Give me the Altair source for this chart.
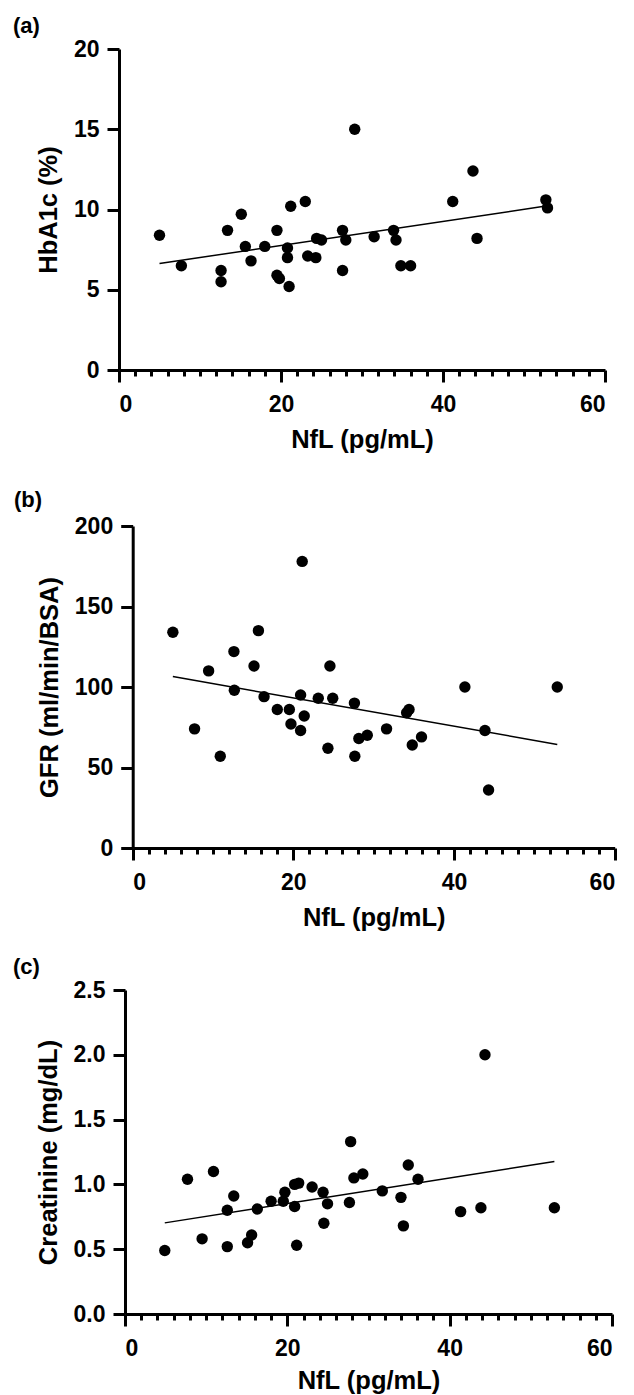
import altair as alt
import pandas as pd

# Panel (a): NfL vs HbA1c
nfl_a = [5.0, 7.7, 12.6, 12.6, 13.4, 15.1, 15.6, 16.3, 18.0, 19.5, 19.5, 19.8,
         20.8, 20.8, 21.0, 21.2, 23.0, 23.3, 24.3, 24.4, 25.0, 27.6, 27.6, 28.0,
         29.1, 31.5, 33.9, 34.2, 34.8, 36.0, 41.2, 43.7, 44.2, 52.7, 52.9]
hba1c = [8.4, 6.5, 6.2, 5.5, 8.7, 9.7, 7.7, 6.8, 7.7, 8.7, 5.9, 5.7,
         7.6, 7.0, 5.2, 10.2, 10.5, 7.1, 7.0, 8.2, 8.1, 8.7, 6.2, 8.1,
         15.0, 8.3, 8.7, 8.1, 6.5, 6.5, 10.5, 12.4, 8.2, 10.6, 10.1]

# Panel (b): NfL vs GFR
nfl_b = [5.0, 7.7, 9.45, 10.9, 12.6, 12.65, 15.1, 15.65, 16.35, 18.0, 19.5, 19.7,
         20.9, 20.9, 21.1, 21.35, 23.1, 24.3, 24.55, 24.9, 27.6, 27.65, 28.15,
         29.2, 31.6, 34.1, 34.4, 34.8, 35.95, 41.35, 43.85, 44.3, 52.85]
gfr = [134, 74, 110, 57, 122, 98, 113, 135, 94, 86, 86, 77,
       95, 73, 178, 82, 93, 62, 113, 93, 90, 57, 68,
       70, 74, 84, 86, 64, 69, 100, 73, 36, 100]

# Panel (c): NfL vs Creatinine
nfl_c = [4.9, 7.7, 9.5, 10.9, 12.6, 12.6, 13.4, 15.1, 15.6, 16.3, 18.0, 19.5,
         19.7, 20.9, 20.9, 21.4, 21.15, 23.05, 24.4, 24.5, 24.95, 27.65, 27.8,
         28.2, 29.3, 31.7, 34.0, 34.3, 34.9, 36.1, 41.35, 43.85, 44.35, 52.9]
creat = [0.49, 1.04, 0.58, 1.10, 0.80, 0.52, 0.91, 0.55, 0.61, 0.81, 0.87, 0.87,
         0.94, 0.83, 1.00, 1.01, 0.53, 0.98, 0.94, 0.70, 0.85, 0.86, 1.33,
         1.05, 1.08, 0.95, 0.90, 0.68, 1.15, 1.04, 0.79, 0.82, 2.00, 0.82]

x_ticks = list(range(0, 61, 2))
x_title = "NfL (pg/mL)"

FONT = "Liberation Sans, Arial, Helvetica, sans-serif"


def panel(xs, ys, ytitle, ymax, yticks, yfmt, label, shift, plotw, height,
          dx, toff, xtpad):
    df = pd.DataFrame({"x": xs, "y": ys})
    base = alt.Chart(df)
    xenc = alt.X(
        "x:Q",
        scale=alt.Scale(domain=[0, 60], range=[shift, shift + plotw], nice=False, zero=True),
        axis=alt.Axis(
            values=x_ticks,
            title=x_title,
            tickSize={"condition": {"test": "datum.value % 20 === 0", "value": 12}, "value": 6},
            labelExpr="datum.value % 20 === 0 ? datum.label : ''",
            labelOverlap=False,
            labelPadding=11,
            titlePadding=xtpad,
        ),
    )
    yaxis_kw = dict(
        values=yticks,
        format=yfmt,
        title=ytitle,
        tickSize=12,
        labelPadding=8,
        titlePadding=12,
    )
    if shift:
        yaxis_kw["offset"] = -shift
    yenc = alt.Y(
        "y:Q",
        scale=alt.Scale(domain=[0, ymax], nice=False, zero=True),
        axis=alt.Axis(**yaxis_kw),
    )
    pts = base.mark_circle(size=130, color="black", opacity=1).encode(x=xenc, y=yenc)
    line = base.transform_regression("x", "y").mark_line(
        color="black", strokeWidth=1.5
    ).encode(x=xenc, y=yenc)
    return alt.layer(pts, line).properties(
        width=shift + plotw,
        height=height,
        title=alt.TitleParams(
            text=label, anchor="start", frame="group", dx=dx, offset=toff,
            fontSize=22, font=FONT, fontWeight="bold", color="black",
        ),
    )


pa = panel(nfl_a, hba1c, "HbA1c (%)", 20, [0, 5, 10, 15, 20], "d", "(a)",
           0, 486, 321, -106, 0, 11)
pb = panel(nfl_b, gfr, "GFR (ml/min/BSA)", 200, [0, 50, 100, 150, 200], "d", "(b)",
           13.7, 482, 322, -105, 3, 11)
pc = panel(nfl_c, creat, "Creatinine (mg/dL)", 2.5, [0, 0.5, 1.0, 1.5, 2.0, 2.5], ".1f", "(c)",
           6, 487, 324, -106, 0, 8)

inner = alt.ConcatChart(concat=[pb, pc], columns=1, spacing=25, align="none")
chart = alt.ConcatChart(concat=[pa, inner], columns=1, spacing=36, align="none").properties(
    padding={"left": 5, "top": 7, "right": 5, "bottom": 0}
).configure_view(stroke=None).configure_axis(
    grid=False,
    domainColor="black",
    domainWidth=3,
    tickColor="black",
    tickWidth=3,
    labelColor="black",
    titleColor="black",
    labelFont=FONT,
    titleFont=FONT,
    labelFontSize=23,
    titleFontSize=25.5,
    labelFontWeight="bold",
    titleFontWeight="bold",
)

chart.save("out.html", embed_options={"renderer": "svg", "actions": False})
